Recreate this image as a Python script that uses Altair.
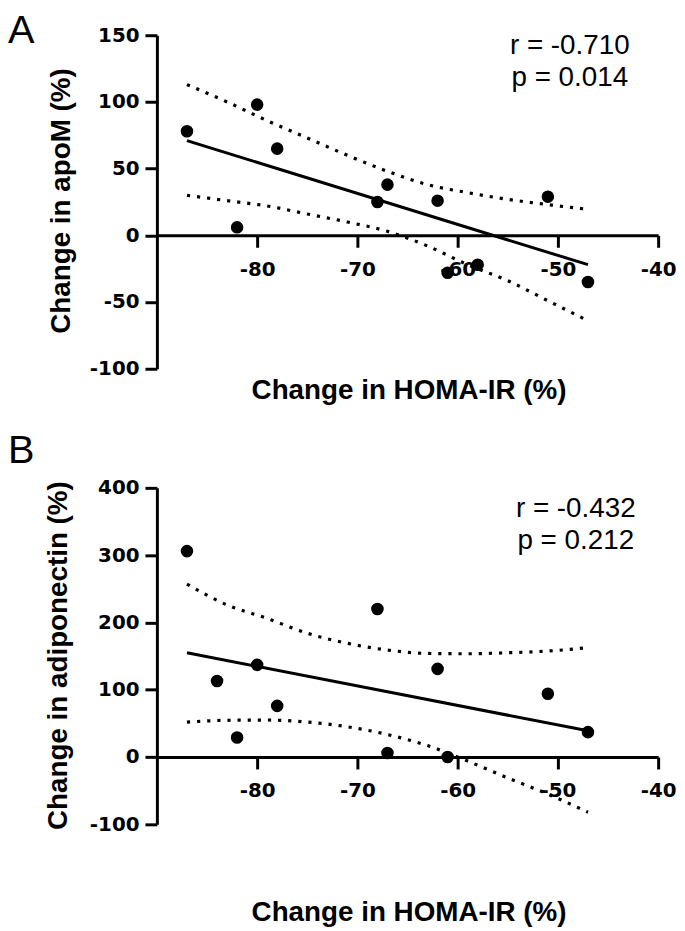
import altair as alt
import pandas as pd

# ---- data ----
# Panel A: change in HOMA-IR (%) vs change in apoM (%)
a_x = [-87, -80, -78, -82, -68, -67, -62, -61, -58, -51, -47]
a_y = [78, 98, 65, 6, 25, 38, 26, -28, -22, 29, -35]
# Panel B: change in HOMA-IR (%) vs change in adiponectin (%)
b_x = [-87, -84, -82, -80, -78, -68, -67, -62, -61, -51, -47]
b_y = [306, 113, 29, 137, 76, 220, 6, 131, 0, 94, 37]

# regression lines (end points)
fit_x = [-87, -47]
fit_a = [71, -22]
fit_b = [155, 39]

# 95% confidence bands
band_x = [-87, -83, -79, -75, -71, -67, -63, -59, -55, -51, -47]
a_upper = [113, 100, 86, 73, 60, 48, 38, 32, 27, 23, 19.5]
a_lower = [30, 26, 22, 16, 10, 3, -8, -22, -34, -49, -64]
b_upper = [257, 226, 206, 184, 169, 159, 154, 153.5, 155, 157.5, 162.5]
b_lower = [52, 54.6, 55, 52, 45, 33.5, 17, -6, -31, -55, -82]

x_ticks = [-80, -70, -60, -50, -40]
a_ticks = [-100, -50, 0, 50, 100, 150]
b_ticks = [-100, 0, 100, 200, 300, 400]

FONT = "Liberation Sans"
TICKFONT = "DejaVu Sans"
W = 505


def panel(px, py, fx, fy, bx, bup, blo, ydom, yticks, h, ytitle, rtxt, ptxt, letter,
          stat_x, r_base, p_base, ytitle_x, ytitle_y, letter_base, xtitle_y):
    xs = alt.Scale(domain=[-90, -40], nice=False, zero=False)
    ys = alt.Scale(domain=ydom, nice=False, zero=False)
    zero_y = h * ydom[1] / (ydom[1] - ydom[0])
    common = dict(title=None, grid=False, domainWidth=3, domainColor="black",
                  tickWidth=3, tickColor="black", tickSize=12, labelFont=TICKFONT,
                  labelFontWeight="bold", labelFontSize=20, labelColor="black",
                  labelFlush=False, labelExpr="'' + datum.value")
    xaxis = alt.Axis(values=x_ticks, offset=-(h - zero_y), labelPadding=12, **common)
    yaxis = alt.Axis(values=yticks, labelPadding=6, **common)

    pts = pd.DataFrame({"x": px, "y": py})
    fit = pd.DataFrame({"x": fit_x, "y": fy})
    band = pd.DataFrame({"x": bx + bx, "y": bup + blo,
                         "b": ["upper"] * len(bx) + ["lower"] * len(bx)})

    base_pts = alt.Chart(pts).mark_circle(size=160, color="black", opacity=1).encode(
        x=alt.X("x:Q", scale=xs, axis=xaxis),
        y=alt.Y("y:Q", scale=ys, axis=yaxis))
    fit_line = alt.Chart(fit).mark_line(color="black", strokeWidth=3).encode(
        x=alt.X("x:Q", scale=xs), y=alt.Y("y:Q", scale=ys))
    band_line = alt.Chart(band).mark_line(color="black", strokeWidth=3.2,
                                          strokeDash=[3.2, 7], interpolate="monotone").encode(
        x=alt.X("x:Q", scale=xs), y=alt.Y("y:Q", scale=ys), detail="b:N")

    def txt(s, x, y, size, weight="normal", angle=0, baseline="alphabetic", align="center"):
        kw = dict(font=FONT, fontSize=size, fontWeight=weight, color="black",
                  baseline=baseline, align=align)
        if angle:
            kw["angle"] = angle
        return alt.Chart(pd.DataFrame({"t": [s]})).mark_text(**kw).encode(
            text="t:N", x=alt.value(x), y=alt.value(y))

    layers = [band_line, fit_line, base_pts,
              txt(rtxt, stat_x, r_base, 28),
              txt(ptxt, stat_x, p_base, 28),
              txt(ytitle, ytitle_x, ytitle_y, 28, "bold", angle=270, baseline="middle"),
              txt("Change in HOMA-IR (%)", 254, xtitle_y, 28, "bold", baseline="middle"),
              txt(letter, -150, letter_base, 40, align="left")]
    return alt.layer(*layers).properties(width=W, height=h)


pa = panel(a_x, a_y, fit_x, fit_a, band_x, a_upper, a_lower, [-100, 150], a_ticks, 336,
           "Change in apoM (%)", "r = -0.710", "p = 0.014", "A",
           416, 19, 51, -96, 167, 8, 358)

pb = panel(b_x, b_y, fit_x, fit_b, band_x, b_upper, b_lower, [-100, 400], b_ticks, 339,
           "Change in adiponectin (%)", "r = -0.432", "p = 0.212", "B",
           422, 29, 62, -99, 169, -25, 428)

chart = alt.vconcat(pa, pb, spacing=120, bounds="flush").properties(
    padding=0, background="white").configure_view(stroke=None)

chart.save("out.html", embed_options={"renderer": "svg", "actions": False})
